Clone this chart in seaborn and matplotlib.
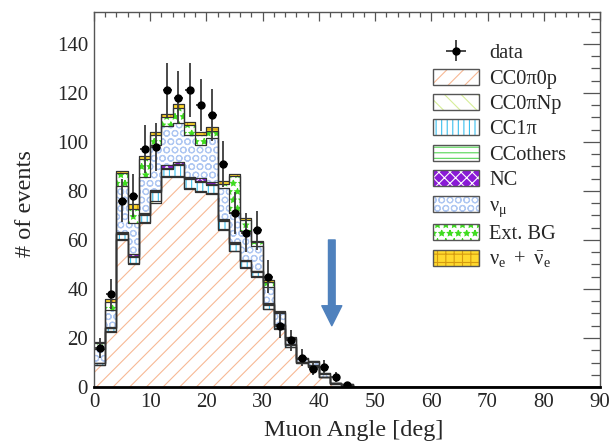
import numpy as np
import pandas as pd
import matplotlib
matplotlib.use("Agg")
import matplotlib.pyplot as plt
import seaborn as sns
from matplotlib.patches import Patch
from matplotlib.ticker import MultipleLocator

# 2 deg bins, 0-90 deg; only the first 23 bins have entries
edges = list(range(0, 92, 2))
centers = np.arange(1, 46, 2)

cc0pi0p = [8.9, 22.4, 60.0, 50.2, 67.0, 75.2, 85.6, 85.6, 80.6, 79.7, 78.6, 64.1,
           55.3, 48.6, 44.8, 31.7, 23.8, 16.4, 9.6, 8.2, 3.9, 1.2, 0.6]
cc0piNp = [0.2, 0.3, 0.4, 0.4, 0.4, 0.5, 0.5, 0.5, 0.4, 0.4, 0.4, 0.3,
           0.3, 0.3, 0.3, 0.2, 0.2, 0.1, 0.1, 0.1, 0.05, 0.05, 0.05]
cc1pi = [0.5, 1.3, 2.2, 2.6, 2.8, 3.8, 3.0, 4.4, 3.8, 3.6, 3.4, 3.3,
         2.8, 2.4, 2.0, 1.7, 1.3, 0.8, 0.4, 0.4, 0.2, 0.2, 0.1]
ccothers = [0.1, 0.2, 0.2, 0.3, 0.3, 0.3, 0.3, 0.3, 0.3, 0.3, 0.3, 0.3,
            0.3, 0.2, 0.2, 0.2, 0.1, 0.1, 0.05, 0.05, 0.0, 0.0, 0.0]
nc = [0.1, 0.2, 0.3, 0.7, 0.4, 0.5, 1.1, 1.0, 0.6, 1.1, 1.0, 0.6,
      0.6, 0.3, 0.2, 0.6, 0.3, 0.1, 0.05, 0.05, 0.05, 0.05, 0.05]
numu = [5.9, 7.1, 18.9, 12.9, 14.7, 18.6, 15.8, 15.9, 17.3, 13.8, 17.9, 12.7,
        11.8, 11.9, 10.1, 6.3, 4.3, 2.0, 1.3, 1.4, 1.0, 0.2, 0.3]
extbg = [2.1, 3.3, 5.3, 5.4, 7.4, 3.9, 3.7, 6.3, 3.8, 3.9, 3.0, 1.7,
         14.9, 4.3, 1.4, 2.3, 0.6, 0.5, 0.4, 0.3, 0.5, 0.1, 0.1]
nue = [0.6, 1.2, 0.8, 2.0, 1.4, 1.2, 1.3, 1.5, 1.2, 1.2, 1.3, 1.0,
       1.0, 0.9, 0.7, 0.8, 0.4, 0.4, 0.1, 0.2, 0.1, 0.0, 0.0]
data = [16, 38, 76, 78, 97, 98, 121, 118, 121, 115, 111, 91,
        71, 63, 64, 45, 25, 19, 12, 7.5, 8.3, 4, 1]

labels = ["CC0π0p", "CC0πNp", "CC1π", "CCothers", "NC",
          r"$\mathrm{\nu_{\mu}}$", "Ext. BG", r"$\mathrm{\nu_{e}\ +\ \bar{\nu}_{e}}$"]
comps = [cc0pi0p, cc0piNp, cc1pi, ccothers, nc, numu, extbg, nue]
# (facecolor, hatch colour, hatch)
styles = [("white", "#f7b995", "//"),
          ("white", "#d6ee98", "\\\\"),
          ("white", "#3cc0ee", "|||"),
          ("white", "#55d655", "---"),
          ("#8a1ad6", "white", "xxx"),
          ("white", "#b0c8f2", "OO"),
          ("white", "#3edc1f", "**"),
          ("#ffd92e", "#d49a10", "++")]

rows = []
for name, vals in zip(labels, comps):
    for c, v in zip(centers, vals):
        rows.append((c, v, name))
df = pd.DataFrame(rows, columns=["angle", "events", "component"])

sns.set_theme(style="white")
plt.rcParams["font.family"] = ["Liberation Serif", "DejaVu Serif"]
plt.rcParams["mathtext.fontset"] = "custom"
plt.rcParams["mathtext.rm"] = "Liberation Serif"
plt.rcParams["mathtext.it"] = "Liberation Serif"
plt.rcParams["hatch.linewidth"] = 0.8

fig = plt.figure(figsize=(6.13, 4.45), dpi=100)
ax = fig.add_axes([0.1533, 0.1303, 0.8255, 0.8427])

# seaborn stacks the last hue level at the bottom
order = labels[::-1]
sns.histplot(data=df, x="angle", weights="events", hue="component", hue_order=order,
             bins=edges, multiple="stack", element="bars", legend=False, ax=ax,
             linewidth=0, shrink=1)

for cont in ax.containers:
    h = np.array([p.get_height() for p in cont])[:len(centers)]
    idx = int(np.argmin([np.abs(h - np.array(v)).sum() for v in comps]))
    fc, hc, hatch = styles[idx]
    for p in cont:
        p.set_alpha(None)
        p.set_facecolor(fc)
        p.set_edgecolor(hc)
        p.set_hatch(hatch)
        p.set_linewidth(0)

# layer outlines
sns.histplot(data=df, x="angle", weights="events", hue="component", hue_order=order,
             bins=edges, multiple="stack", element="step", fill=False, legend=False,
             palette=["#333333"] * len(labels), linewidth=0.9, ax=ax)

eb = ax.errorbar(centers, data, yerr=np.sqrt(data), xerr=0.8, fmt="o", color="black",
                 ecolor="#3a3a3a", ms=5, elinewidth=1.3, capsize=0, zorder=5)

ax.annotate("", xy=(42.3, 25), xytext=(42.3, 60),
            arrowprops=dict(arrowstyle="simple,head_length=1.2,head_width=1.2,tail_width=0.4",
                            color="#4f81bd", shrinkA=0, shrinkB=0), zorder=4)

ax.set_xlim(0, 90)
ax.set_ylim(0, 153)
ax.xaxis.set_major_locator(MultipleLocator(10))
ax.xaxis.set_minor_locator(MultipleLocator(2))
ax.yaxis.set_major_locator(MultipleLocator(20))
ax.yaxis.set_minor_locator(MultipleLocator(5))
ax.tick_params(which="both", direction="in", top=True, right=True, color="#555555",
               width=0.9, labelsize=15, pad=4.3)
ax.tick_params(axis="y", which="major", length=12)
ax.tick_params(axis="y", which="minor", length=6.5)
ax.tick_params(axis="x", which="major", length=6.5)
ax.tick_params(axis="x", which="minor", length=3.3)
for s in ["left", "right", "top"]:
    ax.spines[s].set_color("#555555")
    ax.spines[s].set_linewidth(1)
ax.spines["bottom"].set_color("black")
ax.spines["bottom"].set_linewidth(2)

ax.set_xlabel("Muon Angle [deg]", fontsize=17.5)
ax.set_ylabel("# of events", fontsize=17.5)
ax.xaxis.set_label_coords(0.514, -0.088)
ax.yaxis.set_label_coords(-0.115, 0.49)

handles = [eb]
for fc, hc, hatch in styles:
    handles.append((Patch(facecolor=fc, edgecolor=hc, hatch=hatch, linewidth=0),
                    Patch(facecolor="none", edgecolor="#555555", linewidth=1)))
ax.legend(handles, ["data"] + labels, loc="upper left", bbox_to_anchor=(0.670, 0.917),
          frameon=False, fontsize=14.7, borderpad=0, borderaxespad=0,
          handlelength=2.25, handleheight=0.83, handletextpad=0.49, labelspacing=0.26)

fig.savefig("out.png", dpi=100)
